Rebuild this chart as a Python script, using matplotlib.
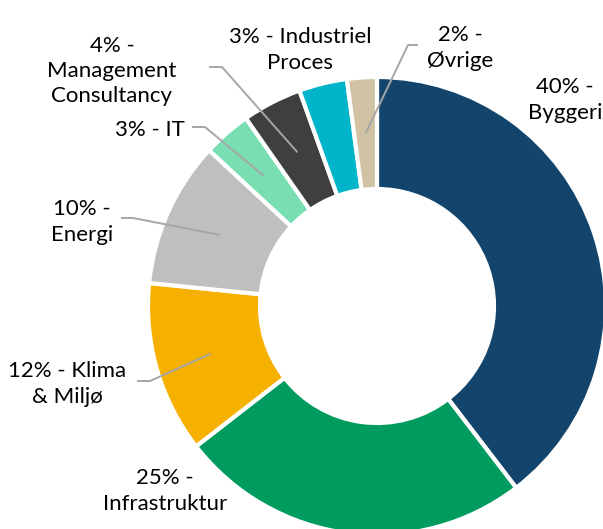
import numpy as np
import matplotlib
matplotlib.use("Agg")
from matplotlib import pyplot as plt

# data, clockwise from 12 o'clock
segments = ["Byggeri", "Infrastruktur", "Klima & Miljø", "Energi", "IT",
            "Management Consultancy", "Industriel Proces", "Øvrige"]
shares = [39.6, 24.9, 12.1, 10.3, 3.4, 4.2, 3.4, 2.1]
labels = ["40% -\nByggeri", "25% -\nInfrastruktur", "12% - Klima\n& Miljø",
          "10% -\nEnergi", "3% - IT", "4% -\nManagement\nConsultancy",
          "3% - Industriel\nProces", "2% -\nØvrige"]
colors = ["#13456C", "#009B5E", "#F5B000", "#BFBFBF", "#79DFB2",
          "#3F3F3F", "#00B5C9", "#D1C2A3"]

W, H = 603, 529
CX, CY, R = 377, 306, 229          # pixel centre / outer radius
HOLE = 117 / 229


def px(x, y):
    '''pixel (from top-left) -> data coords'''
    return (x - CX) / R, (CY - y) / R


# label centre (pixels) and optional leader start/elbow (pixels)
label_pos = [(565, 100), (165, 491), (67, 384), (82, 222), (150, 130),
             (112, 71), (300, 50), (460, 48)]
leaders = [None, None, [(137, 381), (150, 381)], [(121, 218), (133, 218)],
           [(192, 127), (205, 127)], [(209, 67), (222, 67)], None,
           [(418, 45), (408, 45)]]

fig = plt.figure(figsize=(W / 100, H / 100), dpi=100)
ax = fig.add_axes([0, 0, 1, 1])
wedges, _ = ax.pie(shares, colors=colors, startangle=90, counterclock=False,
                   radius=1, normalize=True,
                   wedgeprops=dict(width=1 - HOLE, edgecolor="white",
                                   linewidth=3))
ax.set_aspect("auto")
x0, y1 = px(0, 0)
x1, y0 = px(W, H)
ax.set_xlim(x0, x1)
ax.set_ylim(y0, y1)
ax.axis("off")

font = ["Lato", "DejaVu Sans"]
mid_r = (1 + HOLE) / 2
for w, lab, pos, lead in zip(wedges, labels, label_pos, leaders):
    tx, ty = px(*pos)
    ax.text(tx, ty, lab, ha="center", va="center", fontsize=16,
            family=font, color="black", linespacing=1.32)
    if lead:
        ang = np.deg2rad((w.theta1 + w.theta2) / 2)
        pts = [px(*p) for p in lead] + [(mid_r * np.cos(ang), mid_r * np.sin(ang))]
        xs, ys = zip(*pts)
        ax.plot(xs, ys, color="#A6A6A6", lw=1.4, solid_capstyle="butt")

fig.savefig("out.png", dpi=100)
